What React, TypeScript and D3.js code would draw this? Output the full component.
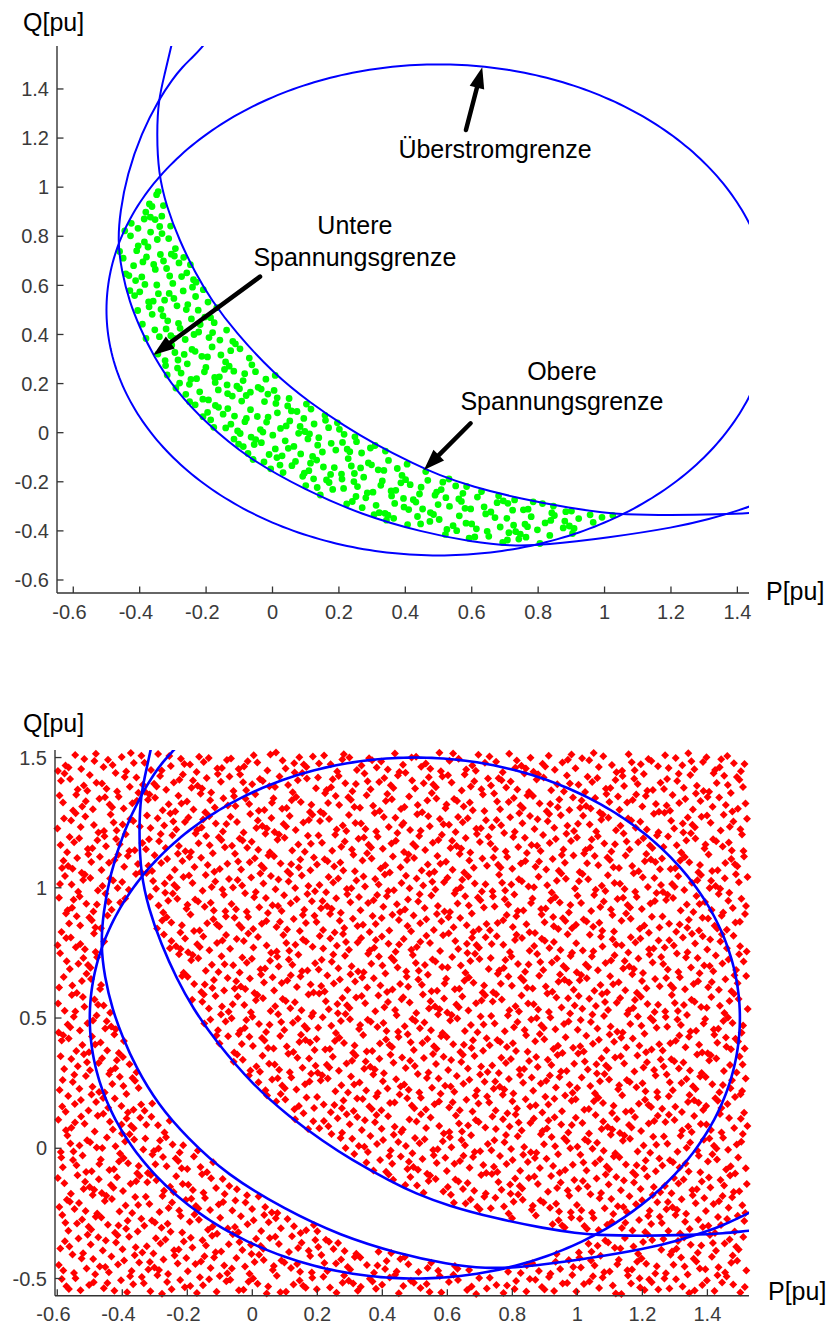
import React from 'react';
import * as d3 from 'd3';

type Pt = [number, number];

// ---------- data ----------
// Überstromgrenze: circle in the P-Q plane
const overcurrentCenter: Pt = [0.5, 0.5];
const overcurrentRadius = 1.0;

// Untere Spannungsgrenze (traced contour, P, Q)
const untereSpannungsgrenze: Pt[] = [
  [-0.195, 1.6], [-0.211, 1.572], [-0.24, 1.53], [-0.271, 1.49], [-0.301, 1.44],
  [-0.341, 1.36], [-0.395, 1.22], [-0.438, 1.05], [-0.459, 0.9], [-0.466, 0.78],
  [-0.455, 0.66], [-0.43, 0.53], [-0.4, 0.43], [-0.36, 0.315], [-0.29, 0.168],
  [-0.2, 0.04], [-0.08, -0.1], [0.1, -0.235], [0.27, -0.335], [0.45, -0.405],
  [0.6, -0.445], [0.72, -0.462], [0.82, -0.458], [1.01, -0.428], [1.215, -0.385],
  [1.317, -0.352], [1.4, -0.318], [1.44, -0.3], [1.53, -0.248], [1.6, -0.2],
];

// Obere Spannungsgrenze (traced contour, P, Q)
const obereSpannungsgrenze: Pt[] = [
  [-0.3, 1.6], [-0.3055, 1.572], [-0.324, 1.464], [-0.3437, 1.355], [-0.3486, 1.22],
  [-0.3437, 1.057], [-0.319, 0.92], [-0.281, 0.785], [-0.232, 0.649], [-0.184, 0.54],
  [-0.112, 0.41], [0.004, 0.24], [0.115, 0.12], [0.22, 0.025], [0.3, -0.04],
  [0.43, -0.13], [0.5, -0.172], [0.6, -0.22], [0.75, -0.27], [0.9, -0.308],
  [1.0, -0.326], [1.05, -0.333], [1.2, -0.337], [1.35, -0.333], [1.45, -0.327],
  [1.53, -0.316], [1.6, -0.31],
];

// operating-point sample (uniform cover of the P-Q rectangle)
const sampleP: Pt = [-0.6, 1.525];
const sampleQ: Pt = [-0.56, 1.52];
const sampleCount = 3500;

const topXTicks = [-0.6, -0.4, -0.2, 0, 0.2, 0.4, 0.6, 0.8, 1, 1.2, 1.4];
const topYTicks = [-0.6, -0.4, -0.2, 0, 0.2, 0.4, 0.6, 0.8, 1, 1.2, 1.4];
const bottomXTicks = [-0.6, -0.4, -0.2, 0, 0.2, 0.4, 0.6, 0.8, 1, 1.2, 1.4];
const bottomYTicks = [-0.5, 0, 0.5, 1, 1.5];

// ---------- helpers ----------
function halton(i: number, base: number): number {
  let f = 1;
  let r = 0;
  let n = i;
  while (n > 0) {
    f /= base;
    r += f * (n % base);
    n = Math.floor(n / base);
  }
  return r;
}

const samples: Pt[] = d3.range(1, sampleCount + 1).map((i) => [
  sampleP[0] + (sampleP[1] - sampleP[0]) * halton(i + 17, 2),
  sampleQ[0] + (sampleQ[1] - sampleQ[0]) * halton(i + 17, 3),
]);

const lastU = untereSpannungsgrenze[untereSpannungsgrenze.length - 1];
const lastO = obereSpannungsgrenze[obereSpannungsgrenze.length - 1];
const belowUntere: Pt[] = [
  ...untereSpannungsgrenze,
  [2.5, lastU[1]], [2.5, -2], [-2, -2], [-2, 2.5], [untereSpannungsgrenze[0][0], 2.5],
];
const aboveObere: Pt[] = [
  ...obereSpannungsgrenze,
  [2.5, lastO[1]], [2.5, 2.5], [obereSpannungsgrenze[0][0], 2.5],
];

function feasible(p: Pt): boolean {
  const dx = p[0] - overcurrentCenter[0];
  const dy = p[1] - overcurrentCenter[1];
  if (dx * dx + dy * dy > overcurrentRadius * overcurrentRadius) return false;
  if (d3.polygonContains(belowUntere, p)) return false;
  if (d3.polygonContains(aboveObere, p)) return false;
  return true;
}

const feasiblePoints = samples.filter(feasible);
const infeasiblePoints = samples.filter((p) => !feasible(p));

const circlePoints: Pt[] = d3.range(0, 361, 1).map((deg) => {
  const a = (deg * Math.PI) / 180;
  return [
    overcurrentCenter[0] + overcurrentRadius * Math.cos(a),
    overcurrentCenter[1] + overcurrentRadius * Math.sin(a),
  ];
});

const fmt = (t: number) => String(Math.round(t * 10) / 10);

const FONT = "'Liberation Sans', Arial, Helvetica, sans-serif";

interface Annotation {
  lines: string[];
  at: Pt;
  lineGap: number;
}
interface ArrowSpec {
  tail: Pt;
  tip: Pt;
}

interface PanelProps {
  id: string;
  xDomain: Pt;
  xRange: Pt;
  yDomain: Pt;
  yRange: Pt;
  xTicks: number[];
  yTicks: number[];
  points: Pt[];
  pointColor: string;
  marker: 'circle' | 'diamond';
  lineWidth: number;
  qLabel: Pt;
  pLabel: Pt;
  xTickGap: number;
  annotations?: Annotation[];
  arrows?: ArrowSpec[];
}

function Panel(props: PanelProps) {
  const x = d3.scaleLinear().domain(props.xDomain).range(props.xRange);
  const y = d3.scaleLinear().domain(props.yDomain).range(props.yRange);
  const line = d3
    .line<Pt>()
    .x((d) => x(d[0]))
    .y((d) => y(d[1]))
    .curve(d3.curveBasis);
  const circleLine = d3
    .line<Pt>()
    .x((d) => x(d[0]))
    .y((d) => y(d[1]));

  const x0 = props.xRange[0];
  const x1 = props.xRange[1];
  const yTop = props.yRange[1];
  const yBot = props.yRange[0];

  let markerPath = '';
  for (const p of props.points) {
    const px = x(p[0]);
    const py = y(p[1]);
    if (props.marker === 'diamond') {
      const s = 4.0;
      markerPath += `M${px.toFixed(1)},${(py - s).toFixed(1)}L${(px + s).toFixed(1)},${py.toFixed(1)}L${px.toFixed(1)},${(py + s).toFixed(1)}L${(px - s).toFixed(1)},${py.toFixed(1)}Z`;
    } else {
      const r = 3.4;
      markerPath += `M${(px - r).toFixed(1)},${py.toFixed(1)}a${r},${r} 0 1,0 ${2 * r},0a${r},${r} 0 1,0 ${-2 * r},0Z`;
    }
  }

  const axisColor = '#333';
  const tickLen = 6.5;

  return (
    <g>
      <defs>
        <clipPath id={`clip-${props.id}`}>
          <rect x={x0} y={yTop} width={x1 - x0} height={yBot - yTop} />
        </clipPath>
      </defs>
      <path d={markerPath} fill={props.pointColor} stroke="none" />
      <g clipPath={`url(#clip-${props.id})`} fill="none" stroke="#0000FF" strokeWidth={props.lineWidth} strokeLinejoin="round">
        <path d={circleLine(circlePoints) || ''} />
        <path d={line(untereSpannungsgrenze) || ''} />
        <path d={line(obereSpannungsgrenze) || ''} />
      </g>
      <line x1={x0} x2={x1} y1={yBot} y2={yBot} stroke={axisColor} strokeWidth={1.4} />
      <line x1={x0} x2={x0} y1={yTop} y2={yBot} stroke={axisColor} strokeWidth={1.4} />
      {props.xTicks.map((t) => (
        <g key={`xt${t}`}>
          <line x1={x(t)} x2={x(t)} y1={yBot} y2={yBot - tickLen} stroke={axisColor} strokeWidth={1.3} />
          <text
            x={x(t)}
            dx={t < 0 ? -3.8 : 0}
            y={yBot + props.xTickGap}
            textAnchor="middle"
            fontFamily={FONT}
            fontSize={20}
            fill="#3a3a3a"
          >
            {fmt(t)}
          </text>
        </g>
      ))}
      {props.yTicks.map((t) => (
        <g key={`yt${t}`}>
          <line x1={x0} x2={x0 + tickLen} y1={y(t)} y2={y(t)} stroke={axisColor} strokeWidth={1.3} />
          <text
            x={x0 - 8}
            y={y(t) + 7.2}
            textAnchor="end"
            fontFamily={FONT}
            fontSize={20}
            fill="#3a3a3a"
          >
            {fmt(t)}
          </text>
        </g>
      ))}
      <text x={props.qLabel[0]} y={props.qLabel[1]} fontFamily={FONT} fontSize={25} fill="#000">
        Q[pu]
      </text>
      <text x={props.pLabel[0]} y={props.pLabel[1]} fontFamily={FONT} fontSize={25} fill="#000">
        P[pu]
      </text>
      {(props.annotations || []).map((a, i) => (
        <text key={`an${i}`} fontFamily={FONT} fontSize={25} fill="#000" textAnchor="middle">
          {a.lines.map((l, j) => (
            <tspan key={j} x={x(a.at[0])} y={y(a.at[1]) + j * a.lineGap}>
              {l}
            </tspan>
          ))}
        </text>
      ))}
      {(props.arrows || []).map((a, i) => {
        const tx = x(a.tail[0]);
        const ty = y(a.tail[1]);
        const hx = x(a.tip[0]);
        const hy = y(a.tip[1]);
        const len = Math.hypot(hx - tx, hy - ty);
        const ux = (hx - tx) / len;
        const uy = (hy - ty) / len;
        const headLen = 21;
        const headHalf = 7.5;
        const bx = hx - ux * headLen;
        const by = hy - uy * headLen;
        const nx = -uy;
        const ny = ux;
        return (
          <g key={`ar${i}`}>
            <line x1={tx} y1={ty} x2={bx + ux * 2} y2={by + uy * 2} stroke="#000" strokeWidth={4.5} strokeLinecap="round" />
            <path
              d={`M${hx},${hy}L${bx + nx * headHalf},${by + ny * headHalf}L${bx - nx * headHalf},${by - ny * headHalf}Z`}
              fill="#000"
            />
          </g>
        );
      })}
    </g>
  );
}

export default function App() {
  return (
    <svg
      width={828}
      height={1324}
      style={{ position: 'absolute', left: 0, top: 0, background: '#fff' }}
      xmlns="http://www.w3.org/2000/svg"
    >
      <rect x={0} y={0} width={828} height={1324} fill="#fff" />
      <Panel
        id="top"
        xDomain={[-0.649, 1.435]}
        xRange={[57, 749]}
        yDomain={[-0.653, 1.575]}
        yRange={[593, 46]}
        xTicks={topXTicks}
        yTicks={topYTicks}
        points={feasiblePoints}
        pointColor="#00FF00"
        marker="circle"
        lineWidth={2}
        qLabel={[23, 30.5]}
        pLabel={[766, 600]}
        xTickGap={26.3}
        annotations={[
          { lines: ['Überstromgrenze'], at: [0.67, 1.119], lineGap: 30 },
          { lines: ['Untere', 'Spannungsgrenze'], at: [0.248, 0.8094], lineGap: 32 },
          { lines: ['Obere', 'Spannungsgrenze'], at: [0.8715, 0.2126], lineGap: 30 },
        ]}
        arrows={[
          { tail: [0.5825, 1.233], tip: [0.6316, 1.488] },
          { tail: [-0.0376, 0.6354], tip: [-0.3588, 0.3165] },
          { tail: [0.5966, 0.0383], tip: [0.456, -0.152] },
        ]}
      />
      <Panel
        id="bottom"
        xDomain={[-0.607, 1.528]}
        xRange={[55, 749]}
        yDomain={[-0.566, 1.529]}
        yRange={[1295.7, 750]}
        xTicks={bottomXTicks}
        yTicks={bottomYTicks}
        points={infeasiblePoints}
        pointColor="#FF0000"
        marker="diamond"
        lineWidth={2.6}
        qLabel={[23, 732]}
        pLabel={[768, 1300]}
        xTickGap={25}
      />
    </svg>
  );
}
